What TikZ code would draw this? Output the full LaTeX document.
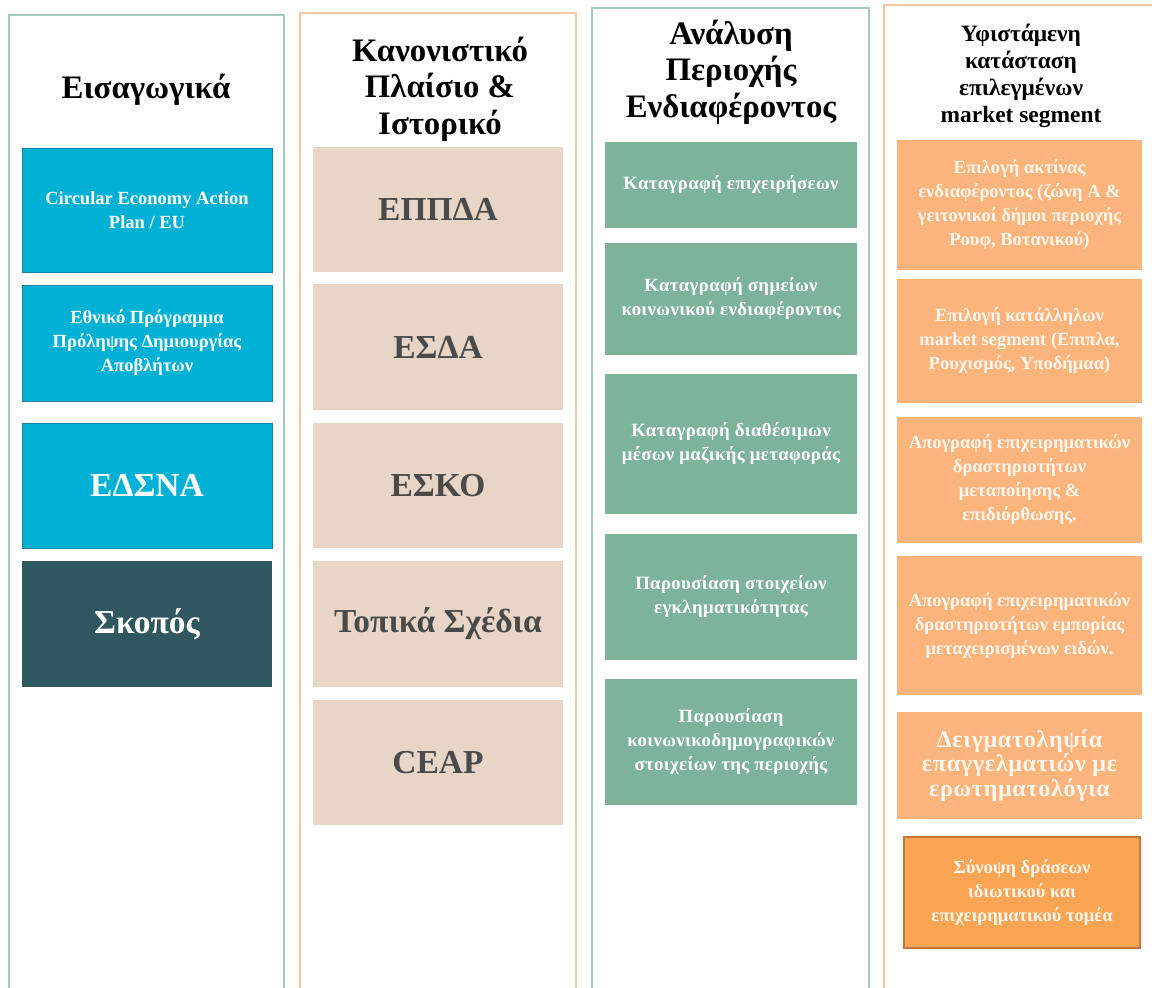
\documentclass[tikz,border=0pt]{standalone}
\usepackage{fontspec}
\setmainfont{Liberation Serif}

\definecolor{frameSage}{HTML}{A3CBBE}
\definecolor{framePeach}{HTML}{F7C8A2}
\definecolor{cyanFill}{HTML}{00B1D5}
\definecolor{cyanLine}{HTML}{1482A6}
\definecolor{slateFill}{HTML}{2F575D}
\definecolor{sandFill}{HTML}{E7D6C7}
\definecolor{sandText}{HTML}{4A4A4A}
\definecolor{sageFill}{HTML}{7EB39B}
\definecolor{peachFill}{HTML}{FBB47C}
\definecolor{amberFill}{HTML}{F9A553}
\definecolor{amberLine}{HTML}{C4753A}
\definecolor{creamText}{HTML}{FFF7EE}

\begin{document}
\begin{tikzpicture}[x=0.03cm, y=-0.03cm,
    every frame/.style={draw, line width=1pt},
    every head/.style={align=center, font=\fontsize{28}{31}\selectfont\bfseries},
    every box/.style={rectangle, inner sep=2pt, outer sep=0pt, align=center},
    small text/.style={font=\fontsize{15.8}{20.5}\selectfont\bfseries},
    big text/.style={font=\fontsize{28.6}{31}\selectfont\bfseries},
    box blue/.style={fill=cyanFill, draw=cyanLine, line width=0.8pt, text=white, small text},
    box bluebig/.style={fill=cyanFill, draw=cyanLine, line width=0.8pt, text=white, big text},
    box slate/.style={fill=slateFill, text=white, big text},
    box sand/.style={fill=sandFill, text=sandText, big text},
    box sage/.style={fill=sageFill, text=white, font=\fontsize{16}{20.5}\selectfont\bfseries\addfontfeatures{LetterSpace=2}},
    box peach/.style={fill=peachFill, text=creamText, small text},
    box peachmid/.style={fill=peachFill, text=creamText, font=\fontsize{20.5}{21}\selectfont\bfseries\addfontfeatures{LetterSpace=3}},
    box amber/.style={fill=amberFill, draw=amberLine, line width=1pt, text=creamText, small text}]

    \useasboundingbox (0,0) rectangle (1152,988);
    \clip (0,0) rectangle (1152,988);

    %%%%%%%%%%%%%%%%%%%%%%%%%%%%%%%%%%%%%%%%%%%%
    % Column frames
    %%%%%%%%%%%%%%%%%%%%%%%%%%%%%%%%%%%%%%%%%%%%
    \draw [every frame, frameSage]  (9,15)  rectangle (284,1000);
    \draw [every frame, framePeach] (300,13) rectangle (576,1000);
    \draw [every frame, frameSage]  (592,8)  rectangle (869,1000);
    \draw [every frame, framePeach] (884,5)  rectangle (1170,1000);

    %%%%%%%%%%%%%%%%%%%%%%%%%%%%%%%%%%%%%%%%%%%%
    % Column titles
    %%%%%%%%%%%%%%%%%%%%%%%%%%%%%%%%%%%%%%%%%%%%
    \node [every head] (head-1) at (146,90) {Εισαγωγικά};
    \node [every head] (head-2) at (440,89) {Κανονιστικό\\Πλαίσιο \&\\Ιστορικό};
    \node [every head] (head-3) at (731,72) {Ανάλυση\\Περιοχής\\Ενδιαφέροντος};
    \node [every head, font=\fontsize{20}{23}\selectfont\bfseries] (head-4) at (1021,76)
        {Υφιστάμενη\\κατάσταση\\επιλεγμένων\\market segment};

    %%%%%%%%%%%%%%%%%%%%%%%%%%%%%%%%%%%%%%%%%%%%
    % Introduction
    %%%%%%%%%%%%%%%%%%%%%%%%%%%%%%%%%%%%%%%%%%%%
    \foreach \t/\b/\m/\l [count=\i] in {
            148/272/blue/{Circular Economy Action\\Plan / EU},
            285/401/blue/{Εθνικό Πρόγραμμα\\Πρόληψης Δημιουργίας\\Αποβλήτων},
            423/548/bluebig/{ΕΔΣΝΑ},
            561/687/slate/{Σκοπός}}
        \node [every box/.try, box \m/.try, minimum width={250*0.03cm},
               minimum height={(\b-\t)*0.03cm}] (intro-\i) at (147,{(\t+\b)/2}) {\l};

    %%%%%%%%%%%%%%%%%%%%%%%%%%%%%%%%%%%%%%%%%%%%
    % Framework & history
    %%%%%%%%%%%%%%%%%%%%%%%%%%%%%%%%%%%%%%%%%%%%
    \foreach \t/\b/\l [count=\i] in {
            147/272/{ΕΠΠΔΑ}, 284/410/{ΕΣΔΑ}, 423/548/{ΕΣΚΟ},
            561/687/{Τοπικά Σχέδια}, 700/825/{CEAP}}
        \node [every box/.try, box sand/.try, minimum width={250*0.03cm},
               minimum height={(\b-\t)*0.03cm}] (frame-\i) at (438,{(\t+\b)/2}) {\l};

    %%%%%%%%%%%%%%%%%%%%%%%%%%%%%%%%%%%%%%%%%%%%
    % Area analysis
    %%%%%%%%%%%%%%%%%%%%%%%%%%%%%%%%%%%%%%%%%%%%
    \foreach \t/\b/\l [count=\i] in {
            142/228/{Καταγραφή επιχειρήσεων},
            243/355/{Καταγραφή σημείων\\κοινωνικού ενδιαφέροντος},
            374/514/{Καταγραφή διαθέσιμων\\μέσων μαζικής μεταφοράς},
            534/660/{Παρουσίαση στοιχείων\\εγκληματικότητας},
            679/805/{Παρουσίαση\\κοινωνικοδημογραφικών\\στοιχείων της περιοχής}}
        \node [every box/.try, box sage/.try, minimum width={252*0.03cm},
               minimum height={(\b-\t)*0.03cm}] (area-\i) at (731,{(\t+\b)/2}) {\l};

    %%%%%%%%%%%%%%%%%%%%%%%%%%%%%%%%%%%%%%%%%%%%
    % Market segment
    %%%%%%%%%%%%%%%%%%%%%%%%%%%%%%%%%%%%%%%%%%%%
    \foreach \t/\b/\m/\l [count=\i] in {
            140/270/peach/{Επιλογή ακτίνας\\ενδιαφέροντος (ζώνη Α \&\\γειτονικοί δήμοι περιοχής\\Ρουφ, Βοτανικού)},
            279/403/peach/{Επιλογή κατάλληλων\\market segment (Επιπλα,\\Ρουχισμός, Υποδήμαα)},
            417/543/peach/{Απογραφή επιχειρηματικών\\δραστηριοτήτων\\μεταποίησης \&\\επιδιόρθωσης.},
            556/695/peach/{Απογραφή επιχειρηματικών\\δραστηριοτήτων εμπορίας\\μεταχειρισμένων ειδών.},
            712/819/peachmid/{Δειγματοληψία\\επαγγελματιών με\\ερωτηματολόγια}}
        \node [every box/.try, box \m/.try, minimum width={245*0.03cm},
               minimum height={(\b-\t)*0.03cm}] (market-\i) at (1019.5,{(\t+\b)/2}) {\l};

    \node [every box/.try, box amber/.try, minimum width={236*0.03cm},
           minimum height={111*0.03cm}] (market-6) at (1022,892.5)
        {Σύνοψη δράσεων\\ιδιωτικού και\\επιχειρηματικού τομέα};
\end{tikzpicture}
\end{document}
